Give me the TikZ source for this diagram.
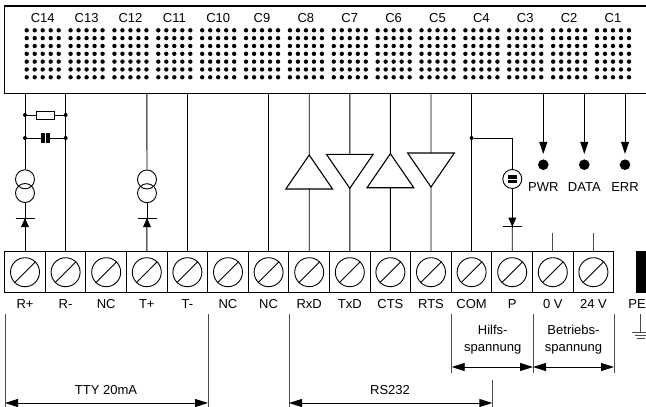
\documentclass[tikz,border=0pt]{standalone}
\usepackage{fontspec}
\setmainfont{Liberation Sans}
\usetikzlibrary{positioning}
\usetikzlibrary{shapes.geometric}
\usetikzlibrary{arrows.meta}
\tikzset{
  wire/.style={line width=0.9pt},
  terminal/.style={draw,line width=1.1pt,minimum width=40.6pt,minimum height=41pt,inner sep=0pt,outer sep=0pt},
  screw/.style={draw,circle,line width=0.9pt,minimum size=29pt,inner sep=0pt},
  junction/.style={fill,circle,minimum size=4pt,inner sep=0pt},
  led/.style={fill,circle,minimum size=10.6pt,inner sep=0pt},
  ring/.style={draw,circle,line width=0.9pt,minimum size=19pt,inner sep=0pt},
  updriver/.style={draw,isosceles triangle,isosceles triangle apex angle=69,shape border rotate=90,line width=1.1pt,minimum height=34pt,inner sep=0pt,outer sep=0pt,fill=white},
  downdriver/.style={updriver,shape border rotate=270},
  dimline/.style={line width=0.9pt,{Triangle[length=13pt,width=8pt]}-{Triangle[length=13pt,width=8pt]}},
  tickline/.style={line width=0.9pt,black!70},
  lab/.style={font=\fontsize{13}{17}\selectfont,inner sep=0pt},
  head/.style={-{Triangle[length=12pt,width=8pt]}},
}
\begin{document}
\begin{tikzpicture}[x=1pt,y=-1pt]
  \useasboundingbox (0,0) rectangle (646,407);
  % panel with the dot matrices
  \draw[line width=1.2pt] (660,6) -- (4.7,6) -- (4.7,93.7) -- (660,93.7);
  \coordinate (PanelEdge) at (0,93.7);
  \foreach \n [count=\i from 0] in {14,13,...,1} {
    \node[lab] (C\n) at (42.7+43.87*\i,18.3) {C\n};
    \foreach \a in {0,...,4}
      \foreach \b in {0,...,6}
        \fill (26.7+43.87*\i+8*\a,30.3+7.83*\b) circle (2.2pt);
  }
  % terminal strip
  \node[terminal] (T1) at (25,272.2) {};
  \foreach \i [remember=\i as \j (initially 1)] in {2,...,15}
    \node[terminal, on grid, right=40.6 of T\j] (T\i) {};
  \foreach \i/\txt in {1/R+,2/R-,3/NC,4/T+,5/T-,6/NC,7/NC,8/RxD,9/TxD,10/CTS,11/RTS,12/COM,13/P,14/0 V,15/24 V} {
    \node[screw] (S\i) at (T\i) {};
    \draw[line width=0.9pt] (S\i.225) -- (S\i.45);
    \node[lab] (L\i) at (T\i |- 0,304) {\txt};
    \coordinate (W\i) at (T\i |- PanelEdge);
  }
  \node[fill,minimum width=14pt,minimum height=41.7pt,inner sep=0pt,anchor=west] (PEblock) at (635.7,272) {};
  \node[lab] (PE) at (637,304) {PE};
  % plain wires
  \draw[wire] (W2) -- (T2.north);
  \draw[wire] (W5) -- (T5.north);
  \draw[wire] (W7) -- (T7.north);
  \draw[wire] (W12) -- (T12.north);
  % R+ and T+ loops
  \node[ring] (A1) at (25,179.3) {};
  \node[ring] (A2) at (25,193) {};
  \node[ring] (B1) at (147,179.5) {};
  \node[ring] (B2) at (147,193.2) {};
  \coordinate (AD) at (25,218);
  \coordinate (BD) at (147,218);
  \draw[wire] (W1) -- (A1.north);
  \draw[wire] (A2.south) -- (AD);
  \draw[wire] (AD) -- (T1.north);
  \draw[wire] (W4) -- (B1.north);
  \draw[wire] (B2.south) -- (BD);
  \draw[wire] (BD) -- (T4.north);
  \foreach \d in {AD,BD} {
    \draw[wire] ([xshift=-9.5pt]\d) -- ([xshift=9.5pt]\d);
    \fill (\d) -- ++(-4,9) -- ++(8,0) -- cycle;
  }
  % resistor and capacitor across R+ / R-
  \node[junction] (RA) at (25,115) {};
  \node[junction] (RB) at (65.7,115) {};
  \node[junction] (CA) at (25,138) {};
  \node[junction] (CB) at (65.7,138) {};
  \node[draw,line width=0.9pt,minimum width=18.3pt,minimum height=8pt,inner sep=0pt] (Res) at (45.2,115) {};
  \node[fill,minimum width=3.8pt,minimum height=9.5pt,inner sep=0pt] (CapL) at (43.2,138) {};
  \node[fill,minimum width=3.8pt,minimum height=9.5pt,inner sep=0pt] (CapR) at (48,138) {};
  \draw[wire] (RA) -- (Res);
  \draw[wire] (Res) -- (RB);
  \draw[wire] (CA) -- (CapL);
  \draw[wire] (CapR) -- (CB);
  % RS232 drivers
  \node[updriver, anchor=apex] (Rx) at (309.2,155) {};
  \node[downdriver, anchor=apex] (Tx) at (349.8,188.3) {};
  \node[updriver, anchor=apex] (Cts) at (390.4,153.7) {};
  \node[downdriver, anchor=apex] (Rts) at (431,187) {};
  \draw[wire] (W8) -- (Rx.apex);
  \draw[wire] (Rx.south) -- (T8.north);
  \draw[wire] (W9) -- (Tx.north);
  \draw[wire] (Tx.apex) -- (T9.north);
  \draw[wire] (W10) -- (Cts.apex);
  \draw[wire] (Cts.south) -- (T10.north);
  \draw[wire] (W11) -- (Rts.north);
  \draw[wire] (Rts.apex) -- (T11.north);
  % auxiliary supply
  \node[junction] (Aux) at (T12 |- 0,138) {};
  \node[ring] (Src) at (512.3,179) {};
  \node[fill,minimum width=9.5pt,minimum height=8pt,inner sep=0pt] (SrcBar) at (Src) {};
  \draw[white,line width=0.8pt] (SrcBar.west) -- (SrcBar.east);
  \coordinate (PD) at (512.3,226.7);
  \draw[wire] (Aux) -| (Src.north);
  \draw[wire] (Src.south) -- (PD);
  \draw[wire] (PD) -- (T13.north);
  \draw[wire] ([xshift=-9.5pt]PD) -- ([xshift=9.5pt]PD);
  \fill (PD) -- ++(-4,-9) -- ++(8,0) -- cycle;
  % supply stubs
  \coordinate (Stub14) at (T14 |- 0,233);
  \coordinate (Stub15) at (T15 |- 0,233);
  \draw[tickline] (Stub14) -- (T14.north);
  \draw[tickline] (Stub15) -- (T15.north);
  % LEDs
  \foreach \x/\nm/\txt in {543.3/Pwr/PWR,584.3/Data/DATA,625/Err/ERR} {
    \node[led] (\nm) at (\x,164.7) {};
    \coordinate (\nm Top) at (\x,93.7);
    \draw[wire,head] (\nm Top) -- ([yshift=5.3pt]\nm.north);
    \node[lab] (\nm Lab) at (\x,187) {\txt};
  }
  % dimension lines
  \coordinate (D1) at (5,314);
  \coordinate (D2) at (208,314);
  \coordinate (D3) at (289,314);
  \coordinate (D4) at (451.7,314);
  \coordinate (D5) at (533,314);
  \coordinate (D6) at (614,314);
  \foreach \d in {D1,D2,D3}
    \draw[tickline] (\d) -- ++(0,93);
  \foreach \d in {D4,D5,D6}
    \draw[tickline] (\d) -- ++(0,59);
  \coordinate (D7) at (492.3,380);
  \draw[tickline] (D7) -- ++(0,27);
  \draw[dimline] (D1 |- 0,403) -- (D2 |- 0,403);
  \draw[dimline] (D3 |- 0,403) -- (D7 |- 0,403);
  \draw[dimline] (D4 |- 0,367) -- (D5 |- 0,367);
  \draw[dimline] (D5 |- 0,367) -- (D6 |- 0,367);
  \node[lab] (Tty) at (106,390.5) {TTY 20mA};
  \node[lab] (Rs) at (390,390.5) {RS232};
  \node[lab,align=center] (Hilfs) at (492.7,339.5) {Hilfs-\\spannung};
  \node[lab,align=center] (Betr) at (573.5,339.5) {Betriebs-\\spannung};
  % earth
  \coordinate (PEtop) at (640.3,314);
  \coordinate (PEgnd) at (640.3,332.7);
  \draw[tickline] (PEtop) -- (PEgnd);
  \draw[tickline] (632,332.7) -- (650,332.7);
  \draw[tickline] (635,335.5) -- (647,335.5);
  \draw[tickline] (637,338) -- (645,338);
\end{tikzpicture}
\end{document}
